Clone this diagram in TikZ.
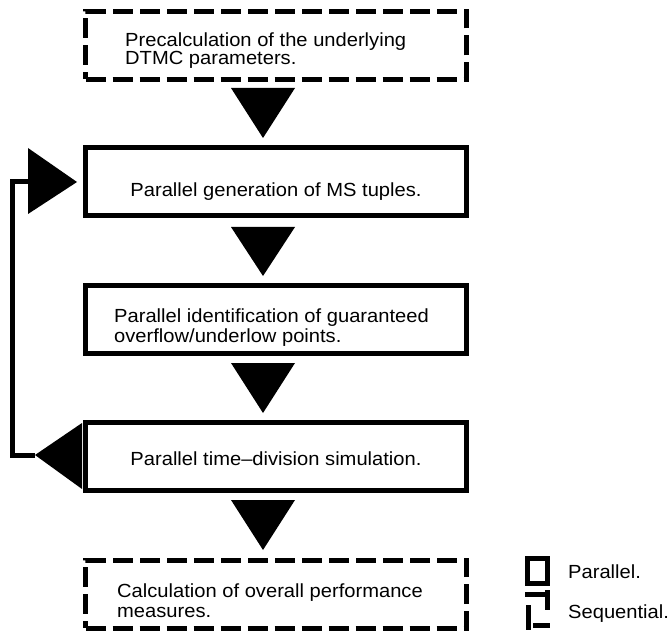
\documentclass[tikz,border=0pt]{standalone}
\usepackage{fontspec}
\setmainfont{Liberation Sans}[FakeStretch=1.06]
\begin{document}
\begin{tikzpicture}[x=1pt,y=-1pt,
  box/.style={draw, line width=5pt, minimum width=381pt, minimum height=68pt, inner sep=0pt},
  seqbox/.style={box, dash pattern=on 20pt off 7pt},
  txt/.style={inner sep=0pt, font=\fontsize{19}{20}\selectfont},
  ltxt/.style={txt, anchor=base west},
  ctxt/.style={txt, anchor=base},
  tri/.style={fill=black},
  loopline/.style={line width=5pt, line join=miter},
  legbar/.style={line width=5pt}]
\useasboundingbox (0,0) rectangle (671,636);
% boxes
\node[seqbox] (pre) at (276,45.5) {};
\node[box] (gen) at (276,181.5) {};
\node[box] (ident) at (276,319.5) {};
\node[box] (sim) at (276,456.5) {};
\node[seqbox] (calc) at (276,594) {};
% texts
\node[ltxt] (pre1) at (125,47) {Precalculation of the underlying};
\node[ltxt] (pre2) at (125,65) {DTMC parameters.};
\node[ctxt] (gen1) at (276,197) {Parallel generation of MS tuples.};
\node[ltxt] (ident1) at (114,322) {Parallel identification of guaranteed};
\node[ltxt] (ident2) at (114,342) {overflow/underlow points.};
\node[ctxt] (sim1) at (276,465) {Parallel time--division simulation.};
\node[ltxt] (calc1) at (117,597) {Calculation of overall performance};
\node[ltxt] (calc2) at (117,617) {measures.};
% down arrows
\fill[tri] (231,88) -- (295,88) -- (263,138) -- cycle;
\fill[tri] (231,227) -- (295,227) -- (263,276) -- cycle;
\fill[tri] (231,363) -- (295,363) -- (263,413) -- cycle;
\fill[tri] (231,500) -- (295,500) -- (263,550) -- cycle;
% feedback loop
\coordinate (rtbase) at (28,182);
\coordinate (ltapex) at (35,455);
\coordinate (loopA) at (12,455);
\coordinate (loopB) at (12,182);
\fill[tri] (28,148) -- (28,214) -- (77,182) -- cycle;
\fill[tri] (82,423) -- (82,489) -- (35,455) -- cycle;
\draw[loopline] (ltapex) -- (loopA) -- (loopB) -- (rtbase);
% legend
\node[draw, line width=5pt, minimum width=20pt, minimum height=25pt, inner sep=0pt] (lpar) at (537.5,571) {};
\node[txt, anchor=base west] (tpar) at (568,578) {Parallel.};
\draw[legbar] (525,594) -- (545,594);
\draw[legbar] (547.5,590) -- (547.5,610);
\draw[legbar] (528,605) -- (528,630);
\draw[legbar] (533,625.5) -- (550,625.5);
\node[txt, anchor=base west] (tseq) at (568,618) {Sequential.};
\end{tikzpicture}
\end{document}
